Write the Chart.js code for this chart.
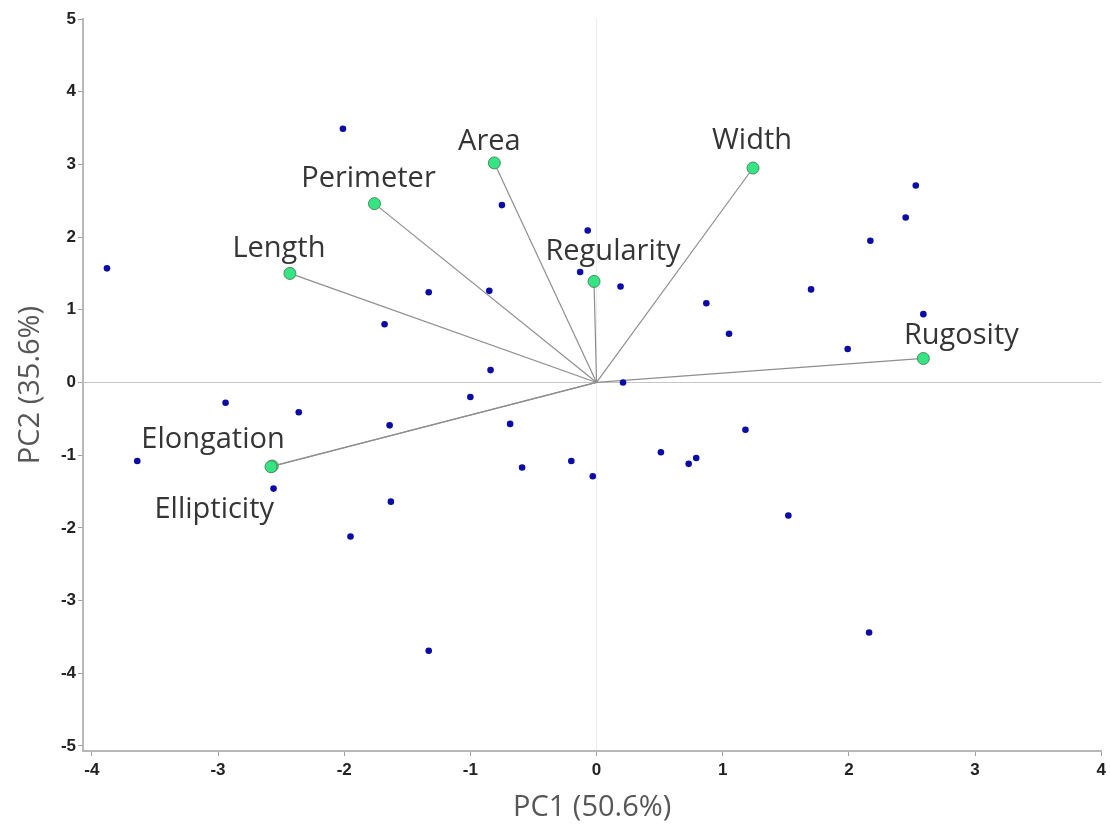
<!DOCTYPE html>
<html lang="en">
<head>
    <meta charset="UTF-8">
    <title>PCA biplot</title>
    <script src="https://cdn.jsdelivr.net/npm/chart.js@4.4.0/dist/chart.umd.min.js"></script>
    <style>
        html, body { margin: 0; padding: 0; background: #fff; }
        #box { width: 1110px; height: 825px; }
    </style>
</head>
<body>
    <div id="box"><canvas id="biplot" width="1110" height="825"></canvas></div>

    <script>
        // tick labels
        const xTicks = [-4, -3, -2, -1, 0, 1, 2, 3, 4]
        const yTicks = [-5, -4, -3, -2, -1, 0, 1, 2, 3, 4, 5]

        // sample scores (PC1, PC2)
        const scoreX = [-3.88, -2.01, -1.68, -2.94, -2.36, -3.64, -2.56, -1.64, -1.63, -1.95,
                        -1.33, -0.685, -0.59, -0.20, -0.03, 0.51, 0.73, 0.79, 1.18, 1.52,
                        2.16, -0.75, -0.07, -0.13, 0.19, -0.85, -1.33, 0.87, 1.05, 1.70,
                        2.17, 2.45, 2.53, 2.59, 1.99, -0.84, -1.00, 0.21]
        const scoreY = [1.57, 3.49, 0.80, -0.28, -0.41, -1.08, -1.46, -0.59, -1.64, -2.12,
                        -3.69, -0.57, -1.17, -1.08, -1.29, -0.96, -1.12, -1.04, -0.65, -1.83,
                        -3.44, 2.44, 2.09, 1.52, 1.32, 1.26, 1.24, 1.09, 0.67, 1.28,
                        1.95, 2.27, 2.71, 0.94, 0.46, 0.17, -0.20, 0.00]

        // variable loadings
        const varNames = ['Length', 'Perimeter', 'Area', 'Width', 'Regularity', 'Rugosity', 'Elongation', 'Ellipticity']
        const loadX = [-2.43, -1.76, -0.81, 1.24, -0.02, 2.59, -2.58, -2.57]
        const loadY = [1.50, 2.46, 3.02, 2.95, 1.39, 0.33, -1.16, -1.15]

        // where each name sits relative to its point (px, to baseline)
        const labelShift = [[-11, -16], [-6, -17], [-5, -13], [-1, -19], [19, -21], [38, -14], [-58, -19], [-58, 52]]

        const datasets = []

        varNames.forEach(function(name, i){
            datasets.push({
                label: name,
                data: [{x: 0, y: 0}, {x: loadX[i], y: loadY[i]}],
                showLine: true,
                borderColor: '#8e8e8e',
                borderWidth: 1.2,
                pointRadius: [0, 6],
                pointBackgroundColor: '#35e482',
                pointBorderColor: '#4f8a60',
                pointBorderWidth: 1,
                order: 2
            })
        })

        datasets.push({
            label: 'scores',
            data: scoreX.map(function(x, i){ return {x: x, y: scoreY[i]} }),
            pointRadius: 3.3,
            pointBackgroundColor: '#0b0ba6',
            pointBorderWidth: 0,
            order: 1
        })

        const varLabels = {
            id: 'varLabels',
            afterDatasetsDraw(chart) {
                const ctx = chart.ctx
                const sx = chart.scales.x
                const sy = chart.scales.y
                ctx.save()
                ctx.font = '29px "Open Sans"'
                ctx.fillStyle = '#353535'
                ctx.textAlign = 'center'
                ctx.textBaseline = 'alphabetic'
                varNames.forEach(function(name, i){
                    const px = sx.getPixelForValue(loadX[i]) + labelShift[i][0]
                    const py = sy.getPixelForValue(loadY[i]) + labelShift[i][1]
                    ctx.fillText(name, px, py)
                })
                ctx.restore()
            }
        }

        const tickFont = {family: '"Liberation Sans", Arial, sans-serif', size: 17, weight: 'bold'}
        const titleFont = {family: '"Open Sans", sans-serif', size: 29}

        new Chart(document.getElementById('biplot'), {
            type: 'scatter',
            data: {datasets: datasets},
            options: {
                responsive: false,
                animation: false,
                layout: {padding: {top: 19, right: 3, left: 0, bottom: 0}},
                plugins: {
                    legend: {display: false},
                    tooltip: {enabled: false}
                },
                scales: {
                    x: {
                        type: 'linear',
                        min: -4.07,
                        max: 4,
                        afterBuildTicks: function(scale){ scale.ticks = xTicks.map(function(v){ return {value: v} }) },
                        afterFit: function(scale){ scale.height = 74 },
                        ticks: {color: '#222', font: tickFont, padding: 4, maxRotation: 0},
                        grid: {
                            color: function(c){ return c.tick && c.tick.value === 0 ? '#ececec' : 'rgba(0,0,0,0)' },
                            tickColor: '#a0a0a0',
                            tickLength: 5
                        },
                        border: {color: '#b8b8b8', width: 2},
                        title: {display: true, text: 'PC1 (50.6%)', color: '#575757', font: titleFont, padding: {top: 0, bottom: 0}}
                    },
                    y: {
                        type: 'linear',
                        min: -5.07,
                        max: 5,
                        afterBuildTicks: function(scale){ scale.ticks = yTicks.map(function(v){ return {value: v} }) },
                        afterFit: function(scale){ scale.width = 83 },
                        ticks: {color: '#222', font: tickFont, padding: 2},
                        grid: {
                            color: function(c){ return c.tick && c.tick.value === 0 ? '#c6c6c6' : 'rgba(0,0,0,0)' },
                            tickColor: '#a0a0a0',
                            tickLength: 5
                        },
                        border: {color: '#b8b8b8', width: 2},
                        title: {display: true, text: 'PC2 (35.6%)', color: '#575757', font: titleFont, padding: {top: 13, bottom: 0}}
                    }
                }
            },
            plugins: [varLabels]
        })
    </script>
</body>
</html>
